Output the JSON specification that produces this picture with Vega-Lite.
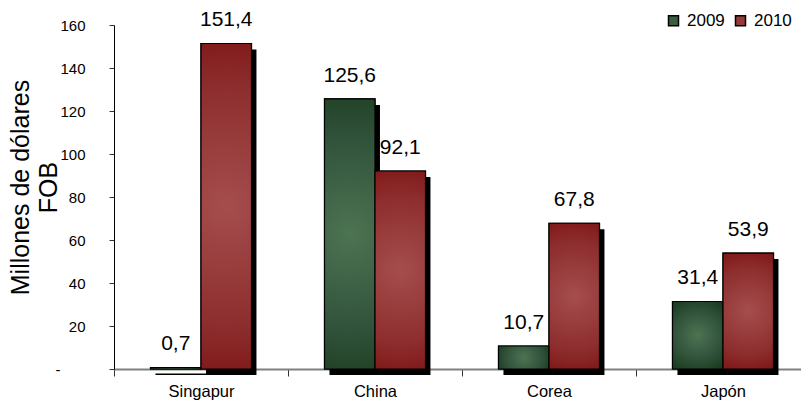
{
  "$schema": "https://vega.github.io/schema/vega-lite/v6.json",
  "width": 696,
  "height": 344,
  "autosize": "none",
  "padding": {"left": 114, "top": 25, "right": 0, "bottom": 43},
  "config": {
    "view": {"stroke": null},
    "font": "Liberation Sans, Arial",
    "locale": {"number": {"decimal": ",", "thousands": ".", "grouping": [3], "currency": ["", ""]}}
  },
  "data": {
    "values": [
      {"pais": "Singapur", "anio": "2009", "valor": 0.7},
      {"pais": "Singapur", "anio": "2010", "valor": 151.4},
      {"pais": "China", "anio": "2009", "valor": 125.6},
      {"pais": "China", "anio": "2010", "valor": 92.1},
      {"pais": "Corea", "anio": "2009", "valor": 10.7},
      {"pais": "Corea", "anio": "2010", "valor": 67.8},
      {"pais": "Japón", "anio": "2009", "valor": 31.4},
      {"pais": "Japón", "anio": "2010", "valor": 53.9}
    ]
  },
  "encoding": {
    "x": {
      "field": "pais", "type": "nominal",
      "sort": ["Singapur", "China", "Corea", "Japón"],
      "scale": {"paddingInner": 0, "paddingOuter": 0},
      "axis": {
        "title": null, "labelAngle": 0, "tickBand": "extent",
        "domainColor": "#808080", "domainWidth": 2,
        "tickColor": "#333333", "tickSize": 7,
        "labelFontSize": 16.5, "labelColor": "black", "labelPadding": 7
      }
    },
    "y": {
      "field": "valor", "type": "quantitative",
      "scale": {"domain": [0, 160], "nice": false},
      "axis": {
        "values": [0, 20, 40, 60, 80, 100, 120, 140, 160],
        "grid": false,
        "labelExpr": "datum.value == 0 ? '-\u00a0\u00a0\u00a0\u00a0\u00a0\u00a0\u200b' : datum.label",
        "labelFontSize": 15, "labelColor": "black", "labelPadding": 24,
        "tickSize": 5, "tickColor": "#333333", "domainColor": "black",
        "title": ["Millones de dólares", "FOB"],
        "titleFontSize": 25, "titleFontWeight": "normal", "titleColor": "black",
        "titleAngle": -90, "titleLineHeight": 28,
        "titleBaseline": "top", "titleAlign": "center",
        "titleX": -106, "titleY": 162
      }
    }
  },
  "resolve": {"scale": {"xOffset": "independent"}},
  "layer": [
    {
      "mark": {"type": "bar", "color": "black", "yOffset": 6, "y2Offset": 0},
      "encoding": {
        "xOffset": {"field": "anio", "type": "nominal", "sort": ["2009", "2010"], "scale": {"paddingOuter": 0.723, "paddingInner": 0, "align": 0.568}}
      }
    },
    {
      "layer": [
        {
          "mark": {"type": "bar", "stroke": "black", "strokeWidth": 1.2},
          "encoding": {
            "color": {
              "field": "anio", "type": "nominal",
              "scale": {"domain": ["2009", "2010"], "range": ["#3b5e40", "#963a3a"]},
              "legend": {
                "title": null, "orient": "none", "direction": "horizontal",
                "legendX": 551, "legendY": -13,
                "symbolType": "square", "symbolSize": 100, "symbolStrokeColor": "black", "symbolStrokeWidth": 1.5,
                "labelFontSize": 17, "labelColor": "black", "labelOffset": 5, "columnPadding": 7
              }
            }
          }
        },
        {
          "transform": [{"filter": "datum.anio == '2009'"}],
          "mark": {
            "type": "bar", "stroke": "black", "strokeWidth": 1.2,
            "fill": {"gradient": "radial", "x1": 0.5, "y1": 0.5, "r1": 0, "x2": 0.5, "y2": 0.5, "r2": 0.6,
              "stops": [{"offset": 0, "color": "#4c7352"}, {"offset": 0.6, "color": "#30523a"}, {"offset": 1, "color": "#1a3a1c"}]}
          }
        },
        {
          "transform": [{"filter": "datum.anio == '2010'"}],
          "mark": {
            "type": "bar", "stroke": "black", "strokeWidth": 1.2,
            "fill": {"gradient": "radial", "x1": 0.5, "y1": 0.5, "r1": 0, "x2": 0.5, "y2": 0.5, "r2": 0.6,
              "stops": [{"offset": 0, "color": "#a54d4d"}, {"offset": 0.6, "color": "#8e2e2e"}, {"offset": 1, "color": "#7a1010"}]}
          }
        },
        {
          "mark": {"type": "text", "baseline": "alphabetic", "dy": -17, "fontSize": 21, "color": "black"},
          "encoding": {"text": {"field": "valor", "type": "quantitative", "format": ".1f"}}
        }
      ],
      "encoding": {
        "xOffset": {"field": "anio", "type": "nominal", "sort": ["2009", "2010"], "scale": {"paddingOuter": 0.723, "paddingInner": 0}}
      }
    }
  ]
}
